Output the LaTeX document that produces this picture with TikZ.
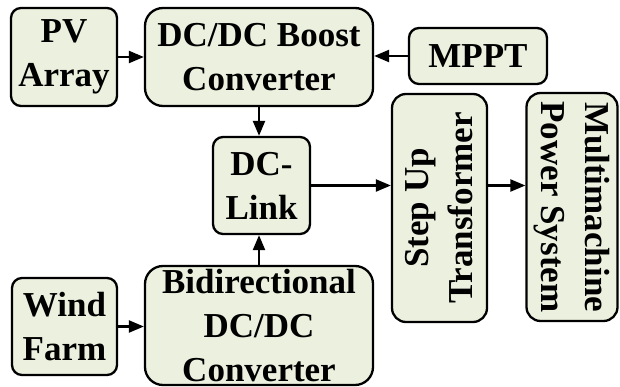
\documentclass[tikz,border=0pt]{standalone}
\usepackage{fontspec}
\setmainfont{Liberation Serif}
\usetikzlibrary{arrows.meta}
\definecolor{boxfill}{HTML}{EBF1DE}
\tikzset{
  blk/.style={draw=black, line width=2.3pt, fill=boxfill, rounded corners=#1,
    inner sep=0pt, align=center, font=\fontsize{35}{44}\selectfont\bfseries},
  blk/.default=10pt,
  conn/.style={line width=2.3pt, -{Triangle[length=15pt,width=12pt]}}
}
\begin{document}
\begin{tikzpicture}[x=1pt,y=-1pt]
\useasboundingbox (0,0) rectangle (620,387);
\node[blk, minimum width=106pt, minimum height=98pt] (pv) at (64,57) {PV\\Array};
\node[blk=18pt, minimum width=228pt, minimum height=98pt] (boost) at (259,57) {DC/DC Boost\\Converter};
\node[blk, minimum width=138pt, minimum height=56pt] (mppt) at (478,56) {MPPT};
\node[blk, minimum width=97pt, minimum height=97pt] (link) at (261.5,185.5) {DC-\\Link};
\node[blk=14pt, rotate=90, minimum width=228pt, minimum height=95pt] (step) at (439.5,208) {Step Up\\Transformer};
\node[blk=14pt, rotate=-90, minimum width=228pt, minimum height=91pt] (multi) at (572,207) {Multimachine\\Power System};
\node[blk, minimum width=105pt, minimum height=97pt] (wind) at (64.5,326.5) {Wind\\Farm};
\node[blk=18pt, minimum width=228pt, minimum height=119pt] (bidir) at (259,325.5) {Bidirectional\\DC/DC\\Converter};
\draw[conn] (pv.east) -- (boost.west);
\draw[conn] (mppt.west) -- (mppt.west -| boost.east);
\draw[conn] (boost.south) -- (boost.south |- link.north);
\draw[conn] (bidir.north) -- (bidir.north |- link.south);
\draw[conn] (wind.east) -- (wind.east -| bidir.west);
\draw[conn] (link.east) -- (link.east -| step.north);
\draw[conn] (link.east -| step.south) -- (link.east -| multi.south);
\end{tikzpicture}
\end{document}
